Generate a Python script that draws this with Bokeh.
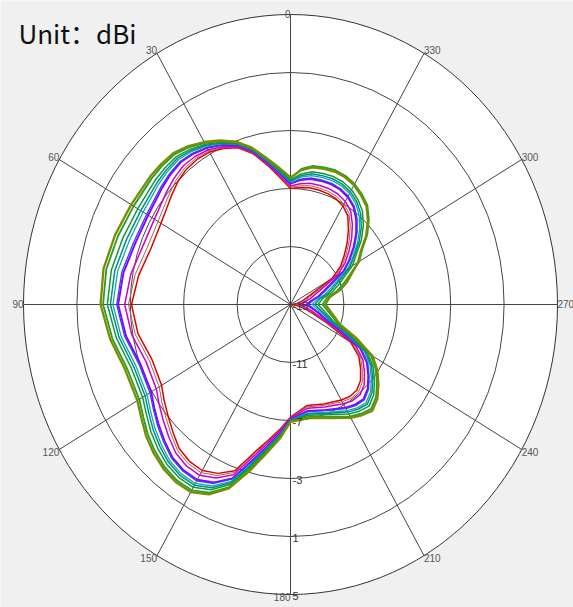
import math
from bokeh.plotting import figure
from bokeh.models import Range1d, Label
from bokeh.embed import file_html
from bokeh.resources import INLINE

# ---------------- data (gain in dBi, angle in degrees, 0 = top, counter-clockwise) -------------
angles = [0, 5, 10, 15, 20, 25, 30, 35, 40, 45, 50, 60, 70, 80, 90, 100, 110, 120,
          125, 130, 135, 140, 145, 150, 155, 160, 165, 170, 175, 180,
          190, 200, 210, 215, 220, 225, 230, 235, 240, 245, 250, 255, 260,
          270, 280, 285, 290, 300, 305, 310, 315, 320, 325, 330, 335, 340, 345, 350, 355]

olive = [-6.24, -5.55, -4.75, -3.80, -3.05, -2.52, -2.06, -1.67, -1.36, -1.30, -1.27, -1.22, -1.01,
         -0.78, -0.77, -1.28, -1.82, -1.75,
         -1.36, -0.88, -0.50, -0.20, -0.04, -0.06, -0.55, -1.50, -3.10, -4.57, -5.70, -6.90,
         -7.05, -6.67, -5.97, -5.67, -5.45, -5.80, -6.40, -7.05, -7.90, -9.60, -11.10, -11.55, -11.90,
         -12.40, -12.00, -11.15, -10.50, -9.15, -8.57, -7.60, -6.80, -6.15, -5.80, -5.50, -5.32, -5.26,
         -5.32, -5.40, -5.70]
green = [-6.30, -5.61, -4.79, -3.84, -3.09, -2.57, -2.12, -1.76, -1.48, -1.44, -1.44, -1.43, -1.24,
         -0.99, -0.96, -1.45, -1.99, -1.92,
         -1.53, -1.05, -0.66, -0.35, -0.18, -0.20, -0.68, -1.60, -3.20, -4.64, -5.76, -6.93,
         -7.12, -6.75, -6.08, -5.80, -5.60, -5.94, -6.54, -7.19, -8.05, -9.79, -11.28, -11.74, -12.10,
         -12.60, -12.20, -11.39, -10.76, -9.05, -8.47, -7.50, -6.70, -6.05, -5.70, -5.40, -5.22, -5.15,
         -5.22, -5.30, -5.62]
green2 = [-6.41, -5.70, -4.86, -3.90, -3.15, -2.65, -2.24, -1.92, -1.69, -1.69, -1.73, -1.79, -1.63,
          -1.37, -1.28, -1.75, -2.29, -2.21,
          -1.82, -1.35, -0.95, -0.60, -0.43, -0.44, -0.90, -1.79, -3.39, -4.77, -5.85, -6.97,
          -7.24, -6.90, -6.28, -6.02, -5.85, -6.19, -6.79, -7.42, -8.32, -10.13, -11.58, -12.07, -12.45,
          -12.94, -12.54, -11.81, -11.23, -9.65, -8.98, -8.07, -7.28, -6.61, -6.18, -5.86, -5.68, -5.61,
          -5.65, -5.71, -5.96]
teal = [-6.48, -5.77, -4.92, -3.94, -3.19, -2.72, -2.32, -2.03, -1.83, -1.86, -1.94, -2.05, -1.92,
        -1.63, -1.51, -1.96, -2.50, -2.42,
        -2.03, -1.57, -1.16, -0.79, -0.60, -0.61, -1.06, -1.92, -3.52, -4.87, -5.92, -7.01,
        -7.33, -7.00, -6.43, -6.18, -6.04, -6.37, -6.96, -7.59, -8.51, -10.37, -11.80, -12.30, -12.70,
        -13.18, -12.78, -12.11, -11.56, -9.87, -9.17, -8.29, -7.50, -6.82, -6.35, -6.03, -5.84, -5.77,
        -5.80, -5.85, -6.08]
cyan = [-6.54, -5.83, -4.96, -3.98, -3.23, -2.76, -2.38, -2.12, -1.95, -2.00, -2.10, -2.25, -2.15,
        -1.85, -1.70, -2.13, -2.67, -2.59,
        -2.20, -1.74, -1.32, -0.93, -0.74, -0.75, -1.19, -2.02, -3.62, -4.94, -5.98, -7.03,
        -7.40, -7.08, -6.54, -6.30, -6.18, -6.51, -7.10, -7.73, -8.66, -10.56, -11.98, -12.49, -12.90,
        -13.38, -12.98, -12.35, -11.82, -10.05, -9.31, -8.46, -7.68, -6.99, -6.49, -6.16, -5.97, -5.90,
        -5.92, -5.97, -6.18]
blue = [-6.64, -5.91, -5.02, -4.03, -3.28, -2.84, -2.48, -2.25, -2.13, -2.21, -2.35, -2.56, -2.49,
        -2.17, -1.98, -2.38, -2.93, -2.84,
        -2.45, -2.00, -1.57, -1.15, -0.96, -0.95, -1.38, -2.18, -3.78, -5.05, -6.06, -7.07,
        -7.50, -7.21, -6.71, -6.49, -6.40, -6.73, -7.31, -7.93, -8.89, -10.85, -12.24, -12.77, -13.20,
        -13.67, -13.27, -12.71, -12.22, -10.32, -9.54, -8.72, -7.94, -7.24, -6.69, -6.36, -6.17, -6.09,
        -6.11, -6.14, -6.32]
violet = [-6.67, -5.94, -5.05, -4.05, -3.31, -2.87, -2.52, -2.31, -2.20, -2.30, -2.46, -2.69, -2.63,
          -2.30, -2.09, -2.49, -3.03, -2.95,
          -2.55, -2.11, -1.67, -1.24, -1.04, -1.04, -1.46, -2.24, -3.84, -5.10, -6.10, -7.09,
          -7.55, -7.26, -6.79, -6.57, -6.49, -6.81, -7.40, -8.02, -8.98, -10.97, -12.35, -12.89, -13.33,
          -13.80, -13.40, -12.86, -12.38, -10.43, -9.63, -8.83, -8.05, -7.35, -6.78, -6.44, -6.25, -6.17,
          -6.18, -6.21, -6.38]
magenta = [-6.83, -6.09, -5.16, -4.14, -3.40, -3.00, -2.68, -2.54, -2.51, -2.67, -2.89, -3.23, -3.23,
           -2.86, -2.58, -2.93, -3.48, -3.39,
           -2.99, -2.56, -2.10, -1.63, -1.41, -1.40, -1.80, -2.51, -4.11, -5.30, -6.25, -7.16,
           -7.73, -7.47, -7.09, -6.90, -6.88, -7.19, -7.77, -8.38, -9.38, -11.47, -12.82, -13.38, -13.85,
           -14.31, -13.91, -13.49, -13.07, -10.91, -10.02, -9.28, -8.52, -7.79, -7.14, -6.79, -6.59, -6.51,
           -6.50, -6.51, -6.64]
brown = [-6.92, -6.17, -5.22, -4.20, -3.46, -3.07, -2.78, -2.68, -2.69, -2.88, -3.14, -3.54, -3.57,
         -3.18, -2.86, -3.19, -3.74, -3.64,
         -3.24, -2.82, -2.35, -1.85, -1.62, -1.61, -1.99, -2.67, -4.27, -5.41, -6.33, -7.20,
         -7.83, -7.60, -7.26, -7.09, -7.10, -7.40, -7.98, -8.58, -9.61, -11.76, -13.08, -13.67, -14.15,
         -14.61, -14.21, -13.85, -13.47, -11.18, -10.24, -9.54, -8.78, -8.04, -7.35, -6.99, -6.79, -6.70,
         -6.68, -6.68, -6.78]
red = [-7.00, -6.24, -5.27, -4.24, -3.50, -3.13, -2.86, -2.79, -2.84, -3.05, -3.35, -3.80, -3.85,
       -3.45, -3.09, -3.40, -3.95, -3.85,
       -3.45, -3.03, -2.55, -2.03, -1.80, -1.78, -2.15, -2.80, -4.40, -5.50, -6.40, -7.23,
       -7.92, -7.70, -7.40, -7.25, -7.28, -7.58, -8.15, -8.75, -9.80, -12.00, -13.30, -13.90, -14.40,
       -14.85, -14.45, -14.15, -13.80, -11.40, -10.43, -9.75, -9.00, -8.25, -7.52, -7.15, -6.95, -6.86,
       -6.83, -6.82, -6.90]

ring_values = [-15, -11, -7, -3, 1, 5]
ring_labels = ["-15", "-11", "-7", "-3", "1", "5"]
spoke_angles = [0, 30, 60, 90, 120, 150, 180, 210, 240, 270, 300, 330]
spoke_labels = ["0", "30", "60", "90", "120", "150", "180", "210", "240", "270", "300", "330"]

# drawing order: inner first, outer last
series = [
    (red, "#e00000", 1.5),
    (brown, "#9a6a50", 1.0),
    (magenta, "#d000c8", 1.5),
    (violet, "#8a00ff", 1.9),
    (blue, "#3a3aff", 1.3),
    (cyan, "#10a8b0", 1.3),
    (teal, "#008c8c", 1.5),
    (green2, "#109a30", 1.5),
    (green, "#2aa02a", 1.9),
    (olive, "#7a8c00", 2.3),
]
for s in series:
    assert len(s[0]) == len(angles), len(s[0])

# ---------------- figure ----------------
W, H = 573, 607
CX, CY = 290.0, 304.0          # centre in page pixels
SX, SY = 13.35, 14.5           # pixels per unit of radius (horizontal / vertical)
DB0 = -15.0                    # value at the centre
RMAX = ring_values[-1] - DB0

p = figure(width=W, height=H, output_backend="svg", toolbar_location=None,
           x_range=Range1d(-CX / SX, (W - CX) / SX),
           y_range=Range1d(-(H - CY) / SY, CY / SY),
           x_axis_type=None, y_axis_type=None, min_border=0)
p.grid.visible = False
p.outline_line_color = None
p.background_fill_color = "#f0f0f0"
p.border_fill_color = "#f0f0f0"


def pol(deg, r):
    t = math.radians(deg)
    return -r * math.sin(t), r * math.cos(t)


# plot disc
p.ellipse(x=0, y=0, width=2 * RMAX, height=2 * RMAX, fill_color="white",
          line_color="#333333", line_width=1)
for v in ring_values[1:-1]:
    r = v - DB0
    p.ellipse(x=0, y=0, width=2 * r, height=2 * r, fill_color=None,
              line_color="#444444", line_width=1)

# spokes
x1, y1 = [], []
for a in spoke_angles:
    xx, yy = pol(a, RMAX)
    x1.append(xx)
    y1.append(yy)
p.segment(x0=[0] * len(x1), y0=[0] * len(y1), x1=x1, y1=y1, line_color="#444444", line_width=1)

# curves
for vals, col, lw in series:
    xs, ys = [], []
    for a, v in zip(angles + [angles[0]], vals + [vals[0]]):
        xx, yy = pol(a, max(v - DB0, 0.0))
        xs.append(xx)
        ys.append(yy)
    p.line(xs, ys, line_color=col, line_width=lw, line_join="round")

# angle labels
for a, t in zip(spoke_angles, spoke_labels):
    xx, yy = pol(a, RMAX)
    if a in (0, 30, 60, 90, 120, 150, 180):
        align = "right"
    else:
        align = "left"
    if a in (90, 270):
        base = "middle"
        yo = 1
    elif a in (0, 30, 60, 300, 330):
        base = "bottom"
        yo = -1 if a != 0 else -3
    else:
        base = "top"
        yo = 2
    p.add_layout(Label(x=xx, y=yy, text=t, text_align=align, text_baseline=base,
                       x_offset=0, y_offset=yo, text_font="Liberation Sans",
                       text_font_size="10px", text_color="#555555"))

# ring labels
for v, t in zip(ring_values, ring_labels):
    r = v - DB0
    p.add_layout(Label(x=0, y=-r, text=t, text_align="left", text_baseline="top",
                       x_offset=2, y_offset=3, text_font="Liberation Sans",
                       text_font_size="11px", text_color="#333333"))

# unit title
p.add_layout(Label(x=(18 - CX) / SX, y=(CY - 32) / SY, text="Unit：dBi", text_align="left",
                   text_baseline="alphabetic", text_font="Noto Sans CJK SC",
                   text_font_size="26px", text_color="#111111"))

html = file_html(p, INLINE)
html = html.replace("<body>", '<body style="background:#f0f0f0;margin:0;overflow:hidden;">', 1)
with open("out.html", "w", encoding="utf-8") as f:
    f.write(html)
